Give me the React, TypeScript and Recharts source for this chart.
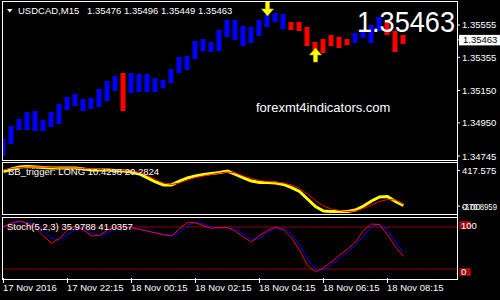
import React from "react";
import {
  ComposedChart,
  LineChart,
  Bar,
  Line,
  Scatter,
  XAxis,
  YAxis,
  Cell,
  ReferenceLine,
} from "recharts";

// USDCAD M15 bodies (bottom / top of each block)
const barLow = [
  1.34745, 1.34819, 1.34906, 1.34906, 1.349, 1.349, 1.34925, 1.34943, 1.35029, 1.35054,
  1.35023, 1.35036, 1.35048, 1.35085, 1.35147, 1.35023, 1.35135, 1.35141, 1.35141, 1.35141,
  1.35165, 1.35196, 1.35258, 1.35277, 1.35345, 1.35394, 1.35388, 1.35394, 1.35481, 1.35462,
  1.35425, 1.35444, 1.35487, 1.35543, 1.35574, 1.3553, 1.35524, 1.35518, 1.35425, 1.354,
  1.35382, 1.35425, 1.35413, 1.35431, 1.35444, 1.35475, 1.35444, 1.35518, 1.35493, 1.35388,
  1.35438,
];
const barHigh = [
  1.3485, 1.34931, 1.34974, 1.35017, 1.35023, 1.34968, 1.35017, 1.35067, 1.3511, 1.35128,
  1.35097, 1.35104, 1.35159, 1.35209, 1.3524, 1.35258, 1.35258, 1.35252, 1.35252, 1.35227,
  1.35215, 1.35283, 1.35357, 1.35363, 1.35456, 1.35468, 1.3545, 1.35524, 1.35586, 1.35586,
  1.35549, 1.35543, 1.35586, 1.35623, 1.35629, 1.35623, 1.35574, 1.35574, 1.35543, 1.3545,
  1.35468, 1.35493, 1.35481, 1.35468, 1.35506, 1.35518, 1.35555, 1.35604, 1.3558, 1.35518,
  1.35493,
];
const barTrend = [
  "up", "up", "up", "up", "up", "up", "up", "up", "up", "up",
  "up", "up", "up", "up", "up", "dn", "up", "up", "up", "up",
  "up", "up", "up", "up", "up", "up", "up", "up", "up", "up",
  "up", "up", "up", "up", "up", "up", "dn", "dn", "dn", "dn",
  "dn", "dn", "dn", "dn", "up", "up", "up", "up", "dn", "dn",
  "dn",
];

// BB_trigger panel
const bbFast = [
  406, 435, 458, 464, 458, 452, 447, 447, 447, 447,
  435, 423, 423, 423, 417, 411, 400, 376, 330, 283,
  248, 248, 294, 330, 353, 371, 382, 394, 411, 371,
  330, 294, 277, 277, 271, 254, 218, 172, 84, -4,
  -57, -63, -63, -63, -45, 2, 60, 107, 113, 55,
  10,
];
const bbSlow = [
  423, 441, 452, 458, 458, 458, 452, 447, 447, 447,
  441, 435, 429, 423, 423, 417, 411, 394, 359, 312,
  271, 254, 271, 306, 335, 353, 371, 388, 400, 388,
  353, 324, 300, 289, 283, 271, 248, 207, 142, 66,
  2, -33, -51, -63, -57, -27, 14, 55, 78, 72,
  20,
];

// Stoch(5,2,3)
const stochMain = [
  85, 92, 95, 91, 83, 70, 58, 66, 80, 86,
  80, 70, 71, 80, 85, 85, 84, 81, 78, 75,
  72, 70, 82, 93, 92, 87, 83, 84, 84, 78,
  68, 60, 71, 79, 85, 80, 67, 46, 21, 10,
  17, 27, 38, 48, 60, 79, 90, 89, 72, 52,
  36,
];
const stochSignal = [
  87, 90, 93, 93, 88, 80, 66, 63, 72, 82,
  83, 75, 71, 75, 82, 85, 85, 82, 79, 76,
  73, 71, 76, 88, 92, 90, 85, 83, 84, 81,
  73, 63, 66, 76, 83, 83, 73, 55, 32, 15,
  14, 22, 32, 43, 55, 70, 86, 90, 80, 60,
  41,
];
const stochLevels = [15, 85];

const priceTicks = [1.34745, 1.3495, 1.3515, 1.35355, 1.35555];
const lastPrice = 1.35463;
const bbTicks = [0, 417.575];
const bbMinLabel = "-370.8959";
const timeTickBars = [0, 8, 16, 24, 32, 40, 48];
const timeLabels = [
  "17 Nov 2016", "17 Nov 22:15", "18 Nov 00:15", "18 Nov 02:15",
  "18 Nov 04:15", "18 Nov 06:15", "18 Nov 08:15",
];

// arrow signals
const signalBars = [33, 39];
const signalPrices = [1.35611, 1.35413];
const signalDirs = ["down", "up"];

const data = barLow.map((low, i) => ({
  i,
  low,
  high: barHigh[i],
  trend: barTrend[i],
  k: stochMain[i],
  d: stochSignal[i],
  fast: bbFast[i],
  slow: bbSlow[i],
}));
const signals = signalBars.map((i, n) => ({ i, price: signalPrices[n], dir: signalDirs[n] }));

const X_DOMAIN: [number, number] = [-0.1875, 56.6875];
const FONT = "'Liberation Sans', Arial, sans-serif";
const small = { fontFamily: FONT, fontSize: 9.5 };
const BLUE = "#0000FF";
const RED = "#FF0000";
const LEVEL = "#8B0000";

const Arrow = (p: any) => {
  const { cx, cy, payload } = p;
  if (cx == null || cy == null) return null;
  const s = payload.dir === "down" ? -1 : 1;
  const pts = [
    [cx, cy],
    [cx + 6, cy + 7 * s],
    [cx + 2, cy + 7 * s],
    [cx + 2, cy + 14 * s],
    [cx - 2, cy + 14 * s],
    [cx - 2, cy + 7 * s],
    [cx - 6, cy + 7 * s],
  ];
  return (
    <polygon
      points={pts.map((q) => q.join(",")).join(" ")}
      fill="#FFFF00"
      stroke="#B8B800"
      strokeWidth={0.6}
    />
  );
};

const PriceTick = (p: any) => {
  const v = p.payload.value;
  if (Math.abs(v - lastPrice) < 1e-9) {
    return (
      <g>
        <rect x={459} y={p.y - 5} width={41} height={10.5} fill="#fff" />
        <text x={463} y={p.y + 3.5} fill="#000" {...small}>
          {v.toFixed(5)}
        </text>
      </g>
    );
  }
  return (
    <text x={462} y={p.y + 3.5} fill="#fff" {...small}>
      {v.toFixed(5)}
    </text>
  );
};

const BBTick = (p: any) => {
  const v = p.payload.value;
  if (v === 0) {
    return (
      <g>
        <text x={462} y={p.y + 4} fill="#fff" {...small} textLength={35} lengthAdjust="spacingAndGlyphs">
          {bbMinLabel}
        </text>
        <text x={462} y={p.y + 4} fill="#fff" {...small}>
          0.00
        </text>
      </g>
    );
  }
  return (
    <text x={462} y={p.y + 3.5} fill="#fff" {...small}>
      {v}
    </text>
  );
};

const StochTick = (p: any) => {
  const v = p.payload.value;
  if (v === 85 || v === 15) {
    const top = v === 85 ? p.y - 6 : p.y - 1;
    return (
      <g>
        <rect x={459} y={top} width={12} height={8} fill={LEVEL} />
        <text x={460} y={top + 7} fill="#C02020" {...small}>
          {v}
        </text>
      </g>
    );
  }
  const y = v === 100 ? p.y + 10.5 : p.y - 3;
  return (
    <text x={461} y={y} fill="#fff" {...small}>
      {v}
    </text>
  );
};

const TimeTick = (p: any) => {
  const n = timeTickBars.indexOf(p.payload.value);
  return (
    <text x={p.x - 0.5} y={74} fill="#fff" {...small}>
      {timeLabels[n]}
    </text>
  );
};

export default function App() {
  const hLines = [1.5, 160.5, 162.5, 214.5, 217.5];
  return (
    <div
      style={{
        position: "absolute",
        left: 0,
        top: 0,
        width: 500,
        height: 300,
        background: "#000",
        overflow: "hidden",
      }}
    >
      {/* price panel */}
      <div style={{ position: "absolute", left: 0, top: 0 }}>
        <ComposedChart width={500} height={162} data={data} margin={{ top: 2, right: 0, bottom: 2, left: 2 }}>
          <XAxis dataKey="i" type="number" domain={X_DOMAIN} allowDataOverflow hide />
          <YAxis
            orientation="right"
            width={43}
            type="number"
            domain={[1.347203, 1.356972]}
            allowDataOverflow
            ticks={[...priceTicks, lastPrice]}
            interval={0}
            axisLine={false}
            tickLine={{ stroke: "#fff" }}
            tickSize={3}
            tick={(p: any) => <PriceTick {...p} />}
          />
          <Bar dataKey={(d: any) => [d.low, d.high]} barSize={5} isAnimationActive={false}>
            {data.map((d) => (
              <Cell key={d.i} fill={d.trend === "up" ? BLUE : RED} />
            ))}
          </Bar>
          <Scatter data={signals} dataKey="price" shape={Arrow} isAnimationActive={false} />
        </ComposedChart>
      </div>

      {/* BB_trigger panel */}
      <div style={{ position: "absolute", left: 0, top: 162 }}>
        <LineChart width={500} height={52} data={data} margin={{ top: 1, right: 0, bottom: 1, left: 2 }}>
          <XAxis dataKey="i" type="number" domain={X_DOMAIN} allowDataOverflow hide />
          <YAxis
            orientation="right"
            width={43}
            type="number"
            domain={[-80, 505]}
            allowDataOverflow
            ticks={bbTicks}
            interval={0}
            axisLine={false}
            tickLine={{ stroke: "#fff" }}
            tickSize={3}
            tick={(p: any) => <BBTick {...p} />}
          />
          <Line dataKey="fast" stroke="#FFFF00" strokeWidth={3} dot={false} isAnimationActive={false} />
          <Line dataKey="slow" stroke={RED} strokeWidth={1} dot={false} isAnimationActive={false} />
        </LineChart>
      </div>

      {/* Stoch panel + time axis */}
      <div style={{ position: "absolute", left: 0, top: 217 }}>
        <LineChart width={500} height={83} data={data} margin={{ top: 1, right: 0, bottom: 0, left: 2 }}>
          <XAxis
            dataKey="i"
            type="number"
            domain={X_DOMAIN}
            allowDataOverflow
            height={22}
            ticks={timeTickBars}
            interval={0}
            axisLine={false}
            tickLine={{ stroke: "#fff" }}
            tickSize={5}
            tick={(p: any) => <TimeTick {...p} />}
          />
          <YAxis
            orientation="right"
            width={43}
            type="number"
            domain={[0, 100]}
            allowDataOverflow
            ticks={[15, 85, 0, 100]}
            interval={0}
            axisLine={false}
            tickLine={false}
            tick={(p: any) => <StochTick {...p} />}
          />
          {stochLevels.map((lv) => (
            <ReferenceLine key={lv} y={lv} stroke={LEVEL} strokeWidth={1} />
          ))}
          <Line dataKey="d" stroke={BLUE} strokeWidth={1} dot={false} isAnimationActive={false} />
          <Line dataKey="k" stroke={RED} strokeWidth={1} dot={false} isAnimationActive={false} />
        </LineChart>
      </div>

      {/* frames and captions */}
      <svg
        width={500}
        height={300}
        style={{ position: "absolute", left: 0, top: 0, pointerEvents: "none" }}
        shapeRendering="crispEdges"
      >
        {hLines.map((y) => (
          <line key={y} x1={2} x2={458} y1={y} y2={y} stroke="#fff" />
        ))}
        <line x1={2} x2={458} y1={279.5} y2={279.5} stroke="#fff" />
        <line x1={2.5} x2={2.5} y1={1} y2={161} stroke="#fff" />
        <line x1={2.5} x2={2.5} y1={162} y2={215} stroke="#fff" />
        <line x1={2.5} x2={2.5} y1={217} y2={280} stroke="#fff" />
        <line x1={457.5} x2={457.5} y1={1} y2={280} stroke="#fff" />
        <polygon points="7,9 12.5,9 9.75,12.5" fill="#fff" shapeRendering="auto" />
        <g shapeRendering="auto">
          <text x={18} y={14} fill="#fff" {...small}>
            USDCAD,M15
          </text>
          <text x={87} y={14} fill="#fff" {...small}>
            1.35476 1.35496 1.35449 1.35463
          </text>
          <text
            x={357}
            y={31.5}
            fill="#fff"
            fontFamily={FONT}
            fontSize={30}
            textLength={98}
            lengthAdjust="spacingAndGlyphs"
          >
            1.35463
          </text>
          <text x={256} y={112} fill="#fff" fontFamily={FONT} fontSize={13}>
            forexmt4indicators.com
          </text>
          <text x={8} y={175} fill="#fff" {...small}>
            BB_trigger: LONG 10.4298 20.2824
          </text>
          <text x={7} y={230} fill="#fff" {...small}>
            Stoch(5,2,3) 35.9788 41.0357
          </text>
        </g>
      </svg>
    </div>
  );
}
